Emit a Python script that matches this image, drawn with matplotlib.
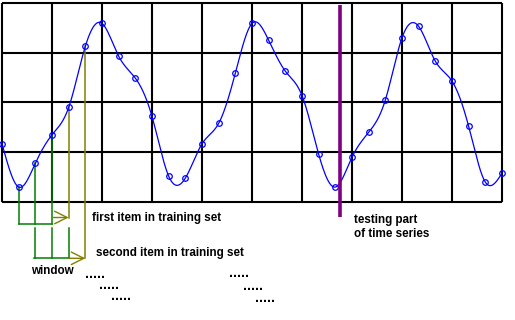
import numpy as np
import matplotlib
matplotlib.use("Agg")
import matplotlib.pyplot as plt

# time series samples, 3 samples per grid cell
steps = np.arange(31)
values = [1.17, 0.30, 0.78, 1.35, 1.90, 3.13, 3.59, 2.93, 2.49, 1.72,
          0.52, 0.48, 1.17, 1.58, 2.59, 3.59, 3.25, 2.63, 2.14, 0.96,
          0.30, 0.90, 1.40, 2.05, 3.30, 3.53, 2.83, 2.43, 1.52, 0.40,
          0.58]
grid_x = np.arange(0, 31, 3)
grid_y = np.arange(0, 5)
split_step = 20.3      # where the testing part begins
window = 3
first_start = 1        # first training item: steps 1..3 -> target 4

labels = ["first item in training set", "second item in training set", "window",
          "testing part", "of time series"]

green = "#008000"
olive = "#808000"
purple = "#800080"


# pixel -> data helpers (layout only)
def px_x(p):
    return (p - 2) / (500 / 30)


def px_y(p):
    return (202 - p) / 49.75


def natural_spline(x, y, xs):
    x = np.asarray(x, float)
    y = np.asarray(y, float)
    n = len(x)
    h = np.diff(x)
    A = np.zeros((n, n))
    r = np.zeros(n)
    A[0, 0] = A[-1, -1] = 1
    for i in range(1, n - 1):
        A[i, i - 1] = h[i - 1]
        A[i, i] = 2 * (h[i - 1] + h[i])
        A[i, i + 1] = h[i]
        r[i] = 3 * ((y[i + 1] - y[i]) / h[i] - (y[i] - y[i - 1]) / h[i - 1])
    c = np.linalg.solve(A, r)
    b = (y[1:] - y[:-1]) / h - h * (2 * c[:-1] + c[1:]) / 3
    d = (c[1:] - c[:-1]) / (3 * h)
    idx = np.clip(np.searchsorted(x, xs) - 1, 0, n - 2)
    t = xs - x[idx]
    return y[idx] + b[idx] * t + c[idx] * t ** 2 + d[idx] * t ** 3


fig = plt.figure(figsize=(5.15, 3.2), dpi=100)
ax = fig.add_axes([0, 0, 1, 1])
ax.set_xlim(px_x(0), px_x(515))
ax.set_ylim(px_y(320), px_y(0))
ax.axis("off")

# grid
ax.vlines(grid_x, grid_y[0], grid_y[-1], color="black", lw=1.5, zorder=1)
ax.hlines(grid_y, grid_x[0], grid_x[-1], color="black", lw=1.5, zorder=1)

# series
xs = np.linspace(steps[0], steps[-1], 1500)
ax.plot(xs, natural_spline(steps, values, xs), color="blue", lw=0.9, zorder=3)
ax.plot(steps, values, "o", mfc="none", mec="blue", ms=4, mew=0.9, zorder=4)

# split line
ax.vlines(split_step, px_y(217), px_y(5), color=purple, lw=2.6, zorder=5)

arrow_kw = dict(arrowstyle="->,head_length=0.9,head_width=0.45", color=olive,
                lw=1, shrinkA=0, shrinkB=0)

# first training item
s = first_start
inp = steps[s:s + window]
tgt = s + window
y_bot = px_y(224)
for k in inp:
    ax.plot([k, k], [values[k], y_bot], color=green, lw=1.1, zorder=2)
ax.plot([inp[0], inp[-1]], [y_bot, y_bot], color=green, lw=1.1, zorder=2)
y_arr = px_y(217.5)
ax.plot([tgt, tgt], [values[tgt], y_arr], color=olive, lw=1.1, zorder=2)
ax.annotate("", xy=(tgt, y_arr), xytext=(inp[-1], y_arr), arrowprops=arrow_kw)

# second training item
s = first_start + 1
inp = steps[s:s + window]
tgt = s + window
y_top, y_bot = px_y(227.5), px_y(257.5)
for k in inp:
    ax.plot([k, k], [y_top, y_bot], color=green, lw=1.1, zorder=2)
ax.plot([inp[0] - 0.06, inp[-1]], [y_bot, y_bot], color=green, lw=1.1, zorder=2)
y_arr = px_y(258.3)
ax.plot([tgt, tgt], [values[tgt], y_arr], color=olive, lw=1.1, zorder=2)
ax.annotate("", xy=(tgt, y_arr), xytext=(inp[-1], y_arr), arrowprops=arrow_kw)

# texts
font = dict(family=["Liberation Sans", "DejaVu Sans"], weight="bold", size=8.4,
            va="baseline", ha="left")
ax.text(px_x(92.5), px_y(220.7), labels[0], **font)
ax.text(px_x(95.5), px_y(256), labels[1], **font)
ax.text(px_x(31.5), px_y(274), labels[2], **font)
ax.text(px_x(353.5), px_y(223), labels[3], **font)
ax.text(px_x(353.5), px_y(237.3), labels[4], **font)

dots = dict(font, size=10)
for x0, y0 in [(85, 277.5), (99.5, 289), (110.5, 300.5),
               (229, 277), (243.5, 289.5), (255, 302.5)]:
    ax.text(px_x(x0), px_y(y0), ".....", **dots)

fig.savefig("out.png", dpi=100)
